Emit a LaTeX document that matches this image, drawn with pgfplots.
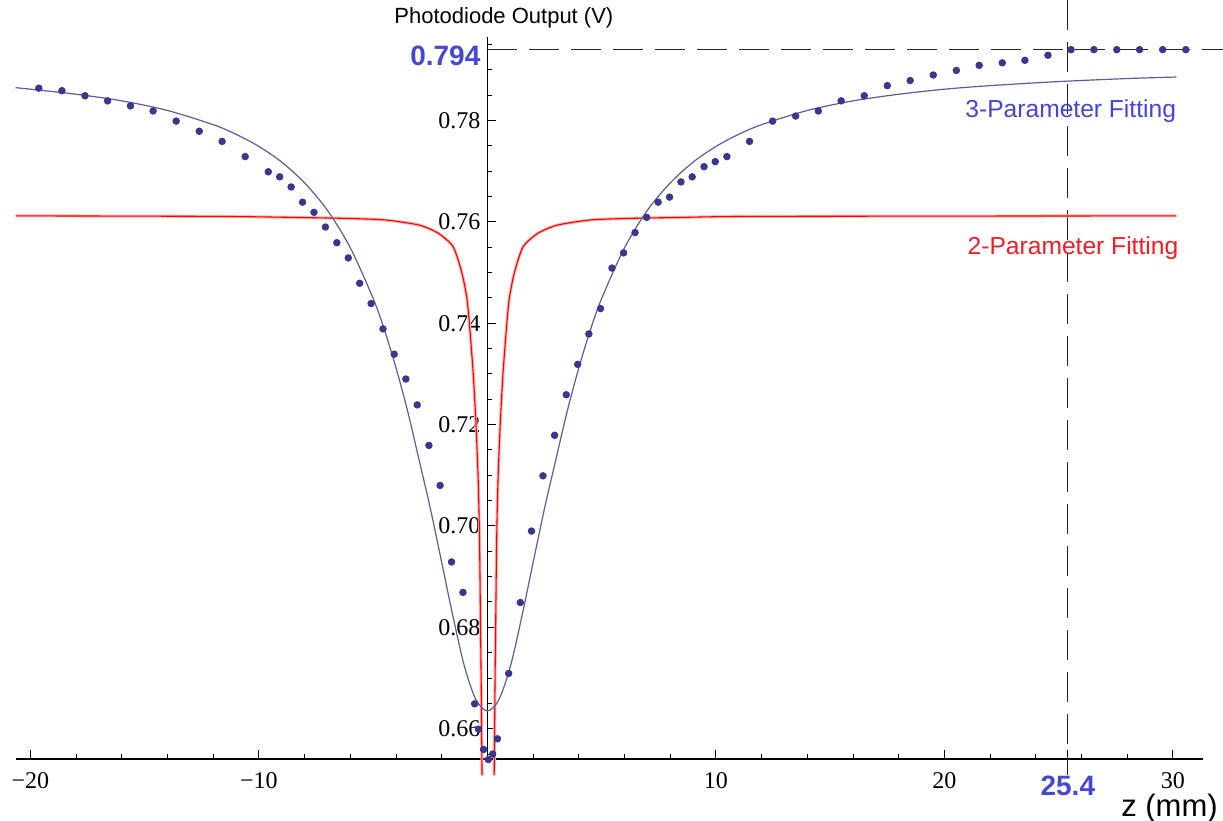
\documentclass[border=0pt]{standalone}
\usepackage{fontspec}
\setmainfont{Liberation Serif}
\setsansfont{Liberation Sans}
\usepackage{pgfplots}
\pgfplotsset{compat=1.18}

\definecolor{dotnavy}{rgb}{0.22,0.22,0.56}
\definecolor{fitblue}{rgb}{0.36,0.36,0.62}
\definecolor{lblblue}{rgb}{0.27,0.27,0.84}
\definecolor{markblue}{rgb}{0.28,0.28,0.82}
\definecolor{fitred}{rgb}{1,0,0}
\definecolor{lblred}{rgb}{0.93,0.12,0.15}
\definecolor{dashgray}{rgb}{0.15,0.15,0.15}

\begin{document}
\begin{tikzpicture}
\begin{axis}[
  scale only axis,
  width=593.5pt, height=361pt,
  xmin=-20.65, xmax=31.3,
  ymin=0.654, ymax=0.7965,
  axis x line=bottom,
  axis y line=middle,
  axis line style={-, line width=0.7pt, black},
  clip=false,
  tick align=inside,
  major tick length=4.5pt,
  minor tick length=2.5pt,
  every tick/.style={black, line width=0.5pt},
  xtick={-20,-10,10,20,30},
  xticklabels={−20,−10,10,20,30},
  xticklabel style={yshift=-3pt},
  minor xtick={-18,-16,-14,-12,-8,-6,-4,-2,2,4,6,8,12,14,16,18,22,24,26,28},
  ytick={0.66,0.68,0.70,0.72,0.74,0.76,0.78},
  yticklabels={0.66,0.68,0.70,0.72,0.74,0.76,0.78},
  minor ytick={0.655,0.665,0.67,0.675,0.685,0.69,0.695,0.705,0.71,0.715,0.725,0.73,0.735,0.745,0.75,0.755,0.765,0.77,0.775,0.785,0.79,0.795},
  tick label style={font=\fontsize{12}{14}\selectfont},
  extra x ticks={25.4},
  extra x tick labels={25.4},
  extra x tick style={xticklabel style={font=\sffamily\bfseries\fontsize{14}{16}\selectfont, text=markblue, yshift=-2pt}},
  extra y ticks={0.794},
  extra y tick labels={0.794},
  extra y tick style={yticklabel style={font=\sffamily\bfseries\fontsize{14}{16}\selectfont, text=markblue, yshift=-3pt}},
]

% reference lines at the saturation level and at z = 25.4 mm
\addplot[dashgray, line width=0.6pt, dash pattern=on 15pt off 6pt] coordinates {(0,0.794) (32.19,0.794)};
\addplot[dashgray, line width=0.6pt, dash pattern=on 15pt off 6pt] coordinates {(25.4,0.8038) (25.4,0.6508)};

% 2-parameter fit (left and right branches, minimum lies below the range)
\addplot[red!30, line width=1.5pt, smooth, tension=0.4] coordinates {
  (-20.65,0.7612) (-12,0.7611) (-8.5,0.7609) (-6.2,0.7607) (-4.5,0.7604)
  (-3.0,0.7594) (-2.16,0.7578) (-1.5,0.7551) (-1.12,0.750) (-0.90,0.745)
  (-0.79,0.740) (-0.62,0.730) (-0.50,0.720) (-0.41,0.710) (-0.355,0.700)
  (-0.325,0.690) (-0.30,0.680) (-0.275,0.670) (-0.255,0.660) (-0.235,0.6508)};
\addplot[red!30, line width=1.5pt, smooth, tension=0.4] coordinates {
  (0.295,0.6508) (0.315,0.660) (0.335,0.670) (0.36,0.680) (0.385,0.690)
  (0.415,0.700) (0.47,0.710) (0.56,0.720) (0.68,0.730) (0.85,0.740)
  (0.96,0.745) (1.18,0.750) (1.56,0.7551) (2.22,0.7578) (3.08,0.7594)
  (4.53,0.7604) (6.23,0.7607) (8.53,0.7609) (12.03,0.7611) (30.15,0.7612)};
\addplot[fitred, line width=0.55pt, smooth, tension=0.4] coordinates {
  (-20.65,0.7612) (-12,0.7611) (-8.5,0.7609) (-6.2,0.7607) (-4.5,0.7604)
  (-3.0,0.7594) (-2.16,0.7578) (-1.5,0.7551) (-1.12,0.750) (-0.90,0.745)
  (-0.79,0.740) (-0.62,0.730) (-0.50,0.720) (-0.41,0.710) (-0.355,0.700)
  (-0.325,0.690) (-0.30,0.680) (-0.275,0.670) (-0.255,0.660) (-0.235,0.6508)};
\addplot[fitred, line width=0.55pt, smooth, tension=0.4] coordinates {
  (0.295,0.6508) (0.315,0.660) (0.335,0.670) (0.36,0.680) (0.385,0.690)
  (0.415,0.700) (0.47,0.710) (0.56,0.720) (0.68,0.730) (0.85,0.740)
  (0.96,0.745) (1.18,0.750) (1.56,0.7551) (2.22,0.7578) (3.08,0.7594)
  (4.53,0.7604) (6.23,0.7607) (8.53,0.7609) (12.03,0.7611) (30.15,0.7612)};

% 3-parameter fit
\addplot[fitblue, line width=0.6pt, smooth] coordinates {
  (-20.65,0.7865) (-20,0.7862) (-18,0.7852) (-16,0.7839) (-14,0.7820)
  (-12,0.7792) (-11,0.7773) (-10,0.7749) (-9,0.7718) (-8,0.7677)
  (-7,0.7623) (-6,0.7549) (-5,0.7449) (-4.5,0.7386) (-4,0.7312)
  (-3.5,0.7228) (-3,0.7132) (-2.5,0.7035) (-2,0.6928) (-1.5,0.6820)
  (-1,0.6722) (-0.5,0.6657) (0,0.6635) (0.5,0.6657) (1,0.6722)
  (1.5,0.6820) (2,0.6928) (2.5,0.7035) (3,0.7132) (3.5,0.7228)
  (4,0.7312) (4.5,0.7386) (5,0.7449) (6,0.7549) (7,0.7623)
  (8,0.7677) (9,0.7718) (10,0.7749) (11,0.7773) (12,0.7792)
  (14,0.7820) (16,0.7839) (18,0.7852) (20,0.7862) (22,0.7869)
  (25,0.7877) (28,0.7883) (30.15,0.7886)};

% measured photodiode output
\addplot[only marks, mark=*, mark size=1.65pt, color=dotnavy] coordinates {
  (-19.63,0.7864) (-18.62,0.7859) (-17.61,0.7849) (-16.62,0.7839) (-15.62,0.7829)
  (-14.63,0.7819) (-13.62,0.7799) (-12.61,0.7779) (-11.61,0.7759) (-10.60,0.7729)
  (-9.59,0.7699) (-9.09,0.7689) (-8.59,0.7669) (-8.09,0.7639) (-7.59,0.7619)
  (-7.09,0.7590) (-6.59,0.7559) (-6.09,0.7529) (-5.59,0.7479) (-5.09,0.7439)
  (-4.57,0.7389) (-4.08,0.7339) (-3.57,0.7290) (-3.07,0.7239) (-2.56,0.7159)
  (-2.07,0.7080) (-1.57,0.6929) (-1.07,0.6869) (-0.56,0.6649) (-0.39,0.6599)
  (-0.17,0.6559) (0.04,0.6539) (0.23,0.6550) (0.44,0.6580) (0.93,0.6709)
  (1.44,0.6849) (1.93,0.6990) (2.43,0.7099) (2.94,0.7179) (3.45,0.7259)
  (3.95,0.7319) (4.44,0.7379) (4.95,0.7429) (5.45,0.7509) (5.96,0.7539)
  (6.46,0.7579) (6.97,0.7609) (7.47,0.7639) (7.97,0.7649) (8.47,0.7679)
  (8.96,0.7689) (9.48,0.7709) (9.97,0.7719) (10.48,0.7729) (11.47,0.7759)
  (12.48,0.7799) (13.49,0.7809) (14.48,0.7819) (15.48,0.7839) (16.49,0.7849)
  (17.50,0.7869) (18.50,0.7879) (19.51,0.7890) (20.52,0.7899) (21.52,0.7909)
  (22.53,0.7914) (23.52,0.7919) (24.53,0.7929) (25.54,0.7940) (26.54,0.7940)
  (27.54,0.7940) (28.54,0.7940) (29.55,0.7940) (30.56,0.7940)};

% axis titles and fit labels
\node[font=\sffamily\fontsize{11}{13}\selectfont] at (axis cs:0.72,0.8003) {Photodiode Output (V)};
\node[font=\sffamily\fontsize{15.5}{18}\selectfont] at (axis cs:29.85,0.6443) {z (mm)};
\node[anchor=east, font=\sffamily\fontsize{12.3}{14}\selectfont, text=lblblue, inner sep=0pt] at (axis cs:30.15,0.7818) {3-Parameter Fitting};
\node[anchor=east, font=\sffamily\fontsize{12.3}{14}\selectfont, text=lblred, inner sep=0pt] at (axis cs:30.25,0.7548) {2-Parameter Fitting};

\coordinate (bbSW) at (axis cs:-21.33,0.6418);
\coordinate (bbNE) at (axis cs:32.19,0.8038);
\end{axis}
\pgfresetboundingbox
\path[use as bounding box] (bbSW) rectangle (bbNE);
\end{tikzpicture}
\end{document}
